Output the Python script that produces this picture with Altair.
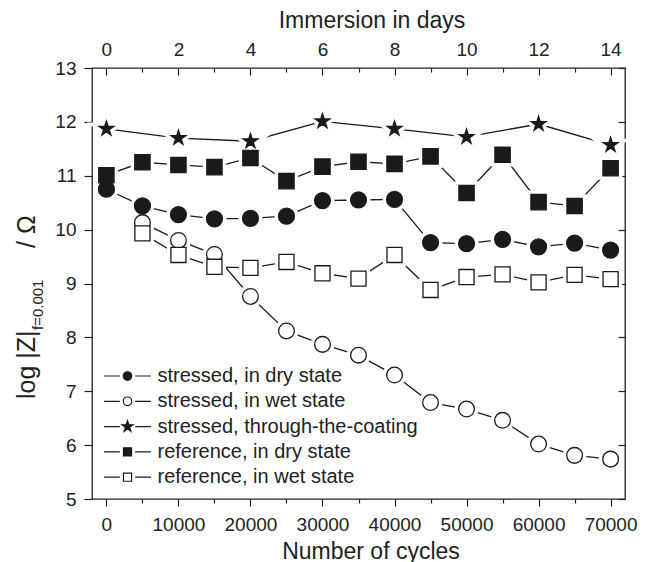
import math
import altair as alt
import pandas as pd

# ---------------- data ----------------
cycles_all = [0, 5000, 10000, 15000, 20000, 25000, 30000, 35000,
              40000, 45000, 50000, 55000, 60000, 65000, 70000]
cycles_wet = cycles_all[1:]
cycles_star = [0, 10000, 20000, 30000, 40000, 50000, 60000, 70000]

stressed_dry = [10.75, 10.44, 10.28, 10.20, 10.21, 10.25, 10.54, 10.55,
                10.56, 9.76, 9.74, 9.82, 9.68, 9.75, 9.62]
stressed_wet = [10.13, 9.80, 9.54, 8.76, 8.12, 7.87, 7.67,
                7.30, 6.79, 6.67, 6.46, 6.02, 5.81, 5.74]
stressed_ttc = [11.87, 11.70, 11.64, 12.01, 11.87, 11.72, 11.96, 11.57]
reference_dry = [11.01, 11.25, 11.20, 11.16, 11.33, 10.90, 11.17, 11.26,
                 11.22, 11.36, 10.68, 11.39, 10.51, 10.44, 11.14]
reference_wet = [9.93, 9.53, 9.31, 9.29, 9.40, 9.19, 9.09,
                 9.53, 8.88, 9.12, 9.17, 9.02, 9.16, 9.08]

series_names = ["stressed, in dry state",
                "stressed, in wet state",
                "stressed, through-the-coating",
                "reference, in dry state",
                "reference, in wet state"]

x_ticks = list(range(0, 70001, 5000))
x_major = list(range(0, 70001, 10000))
y_ticks = [5, 6, 7, 8, 9, 10, 11, 12, 13]

table = [(cycles_all, stressed_dry), (cycles_wet, stressed_wet),
         (cycles_star, stressed_ttc), (cycles_all, reference_dry),
         (cycles_wet, reference_wet)]
rows = []
for i, (xs, ys) in enumerate(table):
    for c, v in zip(xs, ys):
        rows.append({"cycles": c, "logz": v, "series": series_names[i], "k": i})
df = pd.DataFrame(rows)

# ---------------- styles ----------------
W, H = 533, 431
INK = "#1a1a1a"


def star_pts(r):
    pts = []
    for j in range(10):
        rr = r if j % 2 == 0 else r * 0.382
        a = math.radians(-90 + 36 * j)
        pts.append((rr * math.cos(a), rr * math.sin(a)))
    return "M" + "L".join(f"{px:.3f},{py:.3f}" for px, py in pts) + "Z"


STAR = star_pts(1.0)
LEG_LINES = "M-5.2,0H-1.7M1.7,0H5.2"
LEG_CIRCLE = LEG_LINES + "M-0.95,0A0.95,0.95,0,1,0,0.95,0A0.95,0.95,0,1,0,-0.95,0Z"
LEG_SQUARE = LEG_LINES + "M-0.9,-0.9H0.9V0.9H-0.9Z"
LEG_STAR = LEG_LINES + star_pts(1.3)

marker_shapes = ["circle", "circle", STAR, "square", "square"]
marker_fills = [INK, "#ffffff", INK, INK, "#ffffff"]
marker_strokes = [INK] * 5
marker_sizes = [254, 227, 420, 256, 225]
legend_shapes = [LEG_CIRCLE, LEG_CIRCLE, LEG_STAR, LEG_SQUARE, LEG_SQUARE]

xscale = alt.Scale(domain=[-2000, 72000], nice=False, zero=False)
yscale = alt.Scale(domain=[5, 13], nice=False, zero=False)
major_test = "datum.value % 10000 === 0"

base = alt.Chart(df)

# lines: bottom x axis + left y axis
lines = base.mark_line(color=INK, strokeWidth=1.3).encode(
    x=alt.X("cycles:Q", scale=xscale, axis=alt.Axis(
        orient="bottom", values=x_ticks, format="d",
        labelExpr=f"{major_test} ? datum.label : ''",
        tickSize={"condition": {"test": major_test, "value": 7}, "value": 4},
        labelPadding=9, labelFontSize=19,
        title="Number of cycles", titleFontSize=23, titlePadding=6,
        titleX=W / 2 + 12)),
    y=alt.Y("logz:Q", scale=yscale, axis=alt.Axis(
        orient="left", values=y_ticks, tickSize=8, labelPadding=8,
        labelFontSize=19, title=None)),
    detail="series:N",
    order="cycles:Q",
)

# white halos: top labels (days) + right inward ticks
halo = base.mark_point(opacity=1, fill="white", stroke="white",
                       strokeWidth=8, filled=False).encode(
    x=alt.X("cycles:Q", scale=xscale, axis=alt.Axis(
        orient="top", values=x_major, ticks=False,
        labelExpr="format(datum.value / 5000, 'd')",
        labelPadding=9, labelFontSize=19,
        title="Immersion in days", titleFontSize=23, titlePadding=8,
        titleX=W / 2 + 13)),
    y=alt.Y("logz:Q", scale=yscale, axis=alt.Axis(
        orient="left", offset=-W, values=y_ticks, tickSize=7,
        labels=False, title=None)),
    shape=alt.Shape("series:N", scale=alt.Scale(domain=series_names, range=marker_shapes), legend=None),
    size=alt.Size("series:N", scale=alt.Scale(domain=series_names, range=marker_sizes), legend=None),
)

# markers: top inward ticks
markers = base.mark_point(opacity=1, strokeWidth=1.3).encode(
    x=alt.X("cycles:Q", scale=xscale, axis=alt.Axis(
        orient="bottom", offset=-H, values=x_ticks, labels=False,
        tickSize={"condition": {"test": major_test, "value": 7}, "value": 4},
        title=None)),
    y=alt.Y("logz:Q", scale=yscale, axis=None),
    shape=alt.Shape("series:N", scale=alt.Scale(domain=series_names, range=marker_shapes), legend=None),
    fill=alt.Fill("series:N", scale=alt.Scale(domain=series_names, range=marker_fills), legend=None),
    size=alt.Size("series:N", scale=alt.Scale(domain=series_names, range=marker_sizes), legend=None),
    stroke=alt.value(INK),
    order="k:Q",
)

leg_kw = dict(title=None, orient="none", legendX=25.5, legendY=298,
              symbolSize=81, symbolStrokeWidth=1.2, labelOffset=20,
              rowPadding=5.3, labelFontSize=20, padding=0,
              labelFont="Liberation Sans", labelColor="#222", labelLimit=400,
              labelExpr="indexof(datum.label, 'reference') === 0 ? '\u00a0' + datum.label : datum.label")

# legend only (no marks drawn)
legend_layer = base.transform_filter("false").mark_point(opacity=1).encode(
    x=alt.X("cycles:Q", scale=xscale, axis=None),
    y=alt.Y("logz:Q", scale=yscale, axis=None),
    shape=alt.Shape("series:N", scale=alt.Scale(domain=series_names, range=legend_shapes),
                    legend=alt.Legend(**leg_kw)),
    fill=alt.Fill("series:N", scale=alt.Scale(domain=series_names, range=marker_fills),
                  legend=alt.Legend(**leg_kw)),
    stroke=alt.Stroke("series:N", scale=alt.Scale(domain=series_names, range=marker_strokes),
                      legend=alt.Legend(**leg_kw)),
)

# y-axis title with subscript
ytitle_main = ["log |Z|"]
ytitle_sub = ["f=0.001"]
ytitle_end = ["/ \u03a9"]


def title_text(txt, px, py, size):
    return alt.Chart(pd.DataFrame({"t": txt})).mark_text(
        angle=270, align="left", baseline="alphabetic", font="Liberation Sans",
        fontSize=size, color="#222").encode(
        text="t:N", x=alt.value(px), y=alt.value(py))


t1 = title_text(ytitle_main, -57, 331, 25)
t2 = title_text(ytitle_sub, -49, 262, 15)
t3 = title_text(ytitle_end, -57, 180, 25)

chart = alt.layer(lines, halo, markers, legend_layer, t1, t2, t3).resolve_scale(
    shape="independent", fill="independent", size="independent", stroke="independent"
).resolve_axis(
    x="independent", y="independent"
).properties(
    width=W, height=H,
    autosize=alt.AutoSizeParams(type="none"),
    padding={"left": 92, "top": 68, "right": 25, "bottom": 63},
).configure_view(
    stroke="#222", strokeWidth=1.3
).configure_axis(
    grid=False, domain=False, labelFont="Liberation Sans", titleFont="Liberation Sans",
    labelColor="#222", tickColor="#222", titleColor="#222", titleFontWeight="normal",
    tickWidth=1.2
)

chart.save("out.html", embed_options={"renderer": "svg", "actions": False})
